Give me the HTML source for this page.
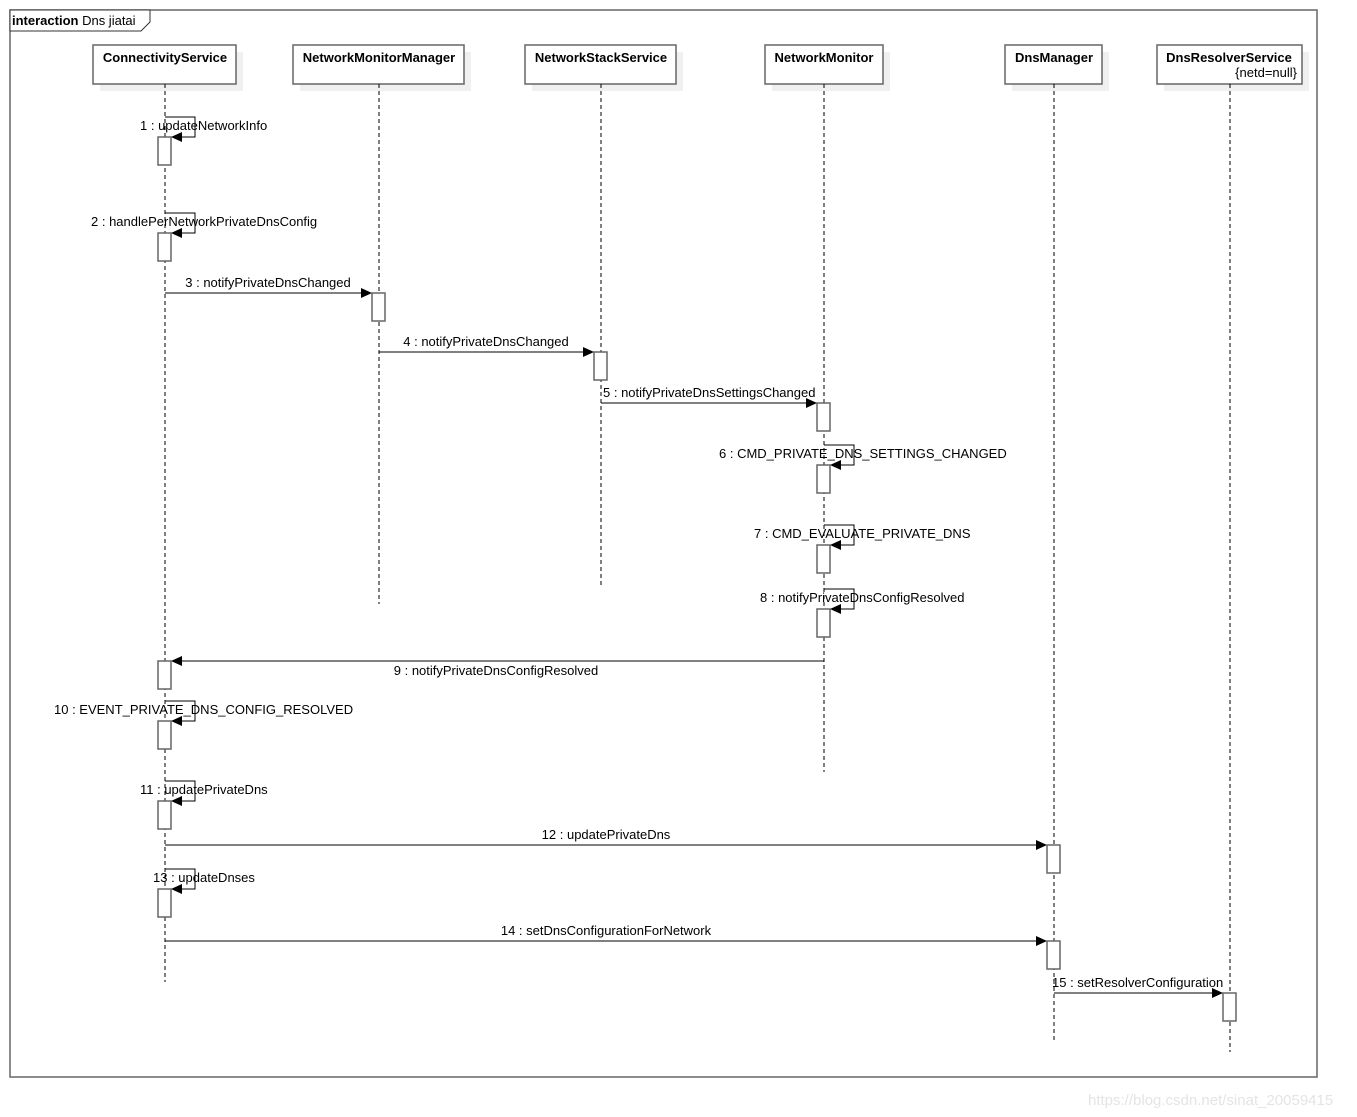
<!DOCTYPE html>
<html><head><meta charset="utf-8"><style>
html,body{margin:0;padding:0;background:#fff;}
svg{display:block;font-family:"Liberation Sans",Arial,sans-serif;}
</style></head><body>
<svg width="1357" height="1117" viewBox="0 0 1357 1117" xmlns="http://www.w3.org/2000/svg">
<defs>
<marker id="a" markerWidth="12" markerHeight="10" refX="11" refY="5" orient="auto" markerUnits="userSpaceOnUse"><path d="M0,0 L11,5 L0,10 z" fill="#000"/></marker>
</defs>
<rect x="10" y="10" width="1307" height="1067" fill="none" stroke="#666" stroke-width="1.5"/>
<polygon points="10,10 150,10 150,22 141,31 10,31" fill="#fff" stroke="#333" stroke-width="1"/>
<text x="12" y="25" font-size="13"><tspan font-weight="bold">interaction</tspan> Dns jiatai</text>

<g fill="#f0f0f0">
<rect x="100" y="52" width="143" height="39"/><rect x="300" y="52" width="171" height="39"/><rect x="532" y="52" width="151" height="39"/><rect x="772" y="52" width="118" height="39"/><rect x="1012" y="52" width="97" height="39"/><rect x="1164" y="52" width="145" height="39"/>
</g>
<g fill="#fff" stroke="#666" stroke-width="1.5">
<rect x="93" y="45" width="143" height="39"/><rect x="293" y="45" width="171" height="39"/><rect x="525" y="45" width="151" height="39"/><rect x="765" y="45" width="118" height="39"/><rect x="1005" y="45" width="97" height="39"/><rect x="1157" y="45" width="145" height="39"/>
</g>
<g font-size="13" font-weight="bold" text-anchor="middle">
<text x="165" y="62">ConnectivityService</text><text x="379" y="62">NetworkMonitorManager</text><text x="601" y="62">NetworkStackService</text><text x="824" y="62">NetworkMonitor</text><text x="1054" y="62">DnsManager</text><text x="1229" y="62">DnsResolverService</text>
</g>
<text x="1297" y="77" font-size="13" text-anchor="end">{netd=null}</text>

<g stroke="#000" stroke-dasharray="4,3" stroke-width="1">
<line x1="165" y1="84" x2="165" y2="982"/><line x1="379" y1="84" x2="379" y2="604"/><line x1="601" y1="84" x2="601" y2="586"/><line x1="824" y1="84" x2="824" y2="772"/><line x1="1054" y1="84" x2="1054" y2="1042"/><line x1="1230" y1="84" x2="1230" y2="1052"/>
</g>

<g fill="none" stroke="#000" stroke-width="1">
<polyline points="165,117 195,117 195,137 171,137" marker-end="url(#a)"/>
<polyline points="165,213 195,213 195,233 171,233" marker-end="url(#a)"/>
<line x1="165" y1="293" x2="372" y2="293" marker-end="url(#a)"/>
<line x1="379" y1="352" x2="594" y2="352" marker-end="url(#a)"/>
<line x1="601" y1="403" x2="817" y2="403" marker-end="url(#a)"/>
<polyline points="824,445 854,445 854,465 830,465" marker-end="url(#a)"/>
<polyline points="824,525 854,525 854,545 830,545" marker-end="url(#a)"/>
<polyline points="824,589 854,589 854,609 830,609" marker-end="url(#a)"/>
<line x1="824" y1="661" x2="171" y2="661" marker-end="url(#a)"/>
<polyline points="165,701 195,701 195,721 171,721" marker-end="url(#a)"/>
<polyline points="165,781 195,781 195,801 171,801" marker-end="url(#a)"/>
<line x1="165" y1="845" x2="1047" y2="845" marker-end="url(#a)"/>
<polyline points="165,869 195,869 195,889 171,889" marker-end="url(#a)"/>
<line x1="165" y1="941" x2="1047" y2="941" marker-end="url(#a)"/>
<line x1="1054" y1="993" x2="1223" y2="993" marker-end="url(#a)"/>
</g>

<g fill="#fff" stroke="#666" stroke-width="1.5">
<rect x="158" y="137" width="13" height="28"/><rect x="158" y="233" width="13" height="28"/>
<rect x="372" y="293" width="13" height="28"/><rect x="594" y="352" width="13" height="28"/>
<rect x="817" y="403" width="13" height="28"/><rect x="817" y="465" width="13" height="28"/>
<rect x="817" y="545" width="13" height="28"/><rect x="817" y="609" width="13" height="28"/>
<rect x="158" y="661" width="13" height="28"/><rect x="158" y="721" width="13" height="28"/>
<rect x="158" y="801" width="13" height="28"/><rect x="1047" y="845" width="13" height="28"/>
<rect x="158" y="889" width="13" height="28"/><rect x="1047" y="941" width="13" height="28"/>
<rect x="1223" y="993" width="13" height="28"/>
</g>

<g font-size="13">
<text x="140" y="130">1 : updateNetworkInfo</text>
<text x="91" y="226">2 : handlePerNetworkPrivateDnsConfig</text>
<text x="268" y="287" text-anchor="middle">3 : notifyPrivateDnsChanged</text>
<text x="486" y="346" text-anchor="middle">4 : notifyPrivateDnsChanged</text>
<text x="603" y="397">5 : notifyPrivateDnsSettingsChanged</text>
<text x="719" y="458">6 : CMD_PRIVATE_DNS_SETTINGS_CHANGED</text>
<text x="754" y="538">7 : CMD_EVALUATE_PRIVATE_DNS</text>
<text x="760" y="602">8 : notifyPrivateDnsConfigResolved</text>
<text x="496" y="675" text-anchor="middle">9 : notifyPrivateDnsConfigResolved</text>
<text x="54" y="714">10 : EVENT_PRIVATE_DNS_CONFIG_RESOLVED</text>
<text x="140" y="794">11 : updatePrivateDns</text>
<text x="606" y="839" text-anchor="middle">12 : updatePrivateDns</text>
<text x="153" y="882">13 : updateDnses</text>
<text x="606" y="935" text-anchor="middle">14 : setDnsConfigurationForNetwork</text>
<text x="1052" y="987">15 : setResolverConfiguration</text>
</g>
<text x="1088" y="1105" font-size="15" fill="#e4e4e4">https://blog.csdn.net/sinat_20059415</text>
</svg>
</body></html>
